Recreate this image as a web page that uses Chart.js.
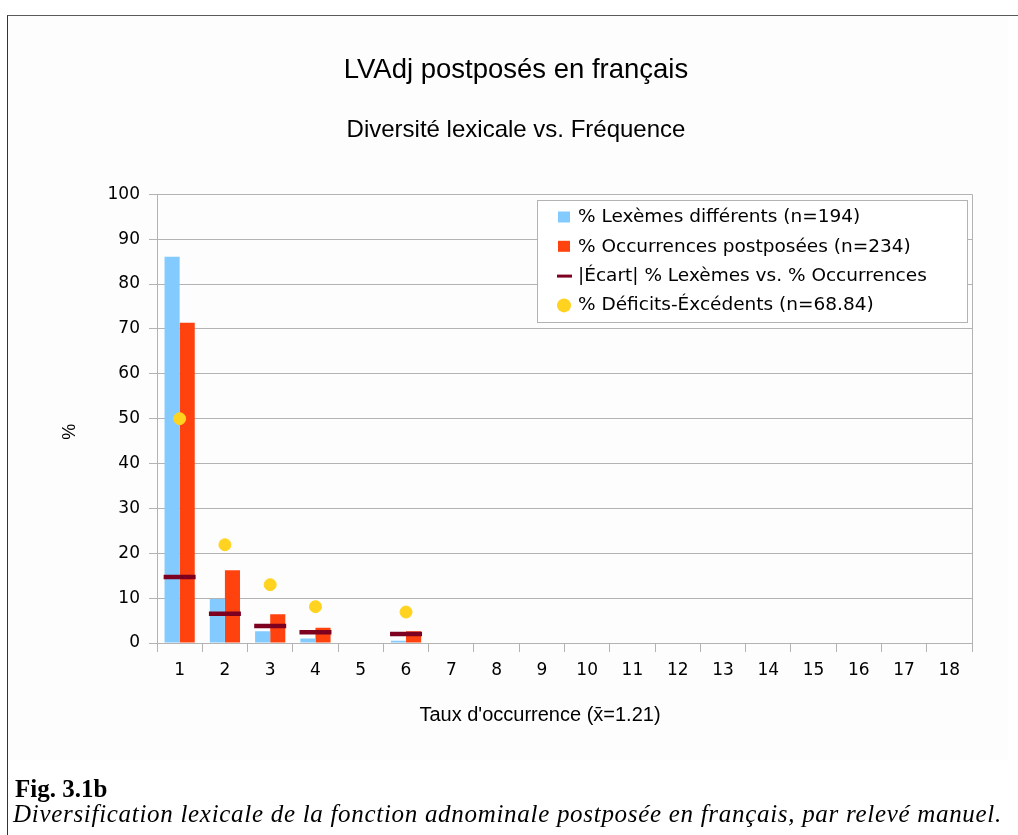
<!DOCTYPE html>
<html><head><meta charset="utf-8">
<script src="https://cdn.jsdelivr.net/npm/chart.js@4.4.1/dist/chart.umd.min.js"></script>
<style>
html,body{margin:0;padding:0;background:#fff;width:1018px;height:835px;overflow:hidden;}
#bg{position:absolute;left:8px;top:16px;width:1000px;height:744px;background:#fdfdfd;}
#wrap{position:absolute;left:0;top:0;width:1018px;height:760px;}
#frame{position:absolute;left:7px;top:15px;width:1011px;height:820px;border-top:1px solid #5a5a5a;border-left:1px solid #333;box-sizing:border-box;pointer-events:none;}
.cap{position:absolute;white-space:nowrap;color:#000;font-family:"Liberation Serif","Times New Roman",serif;}
#fig{left:15px;top:776px;font-size:25px;line-height:25px;font-weight:bold;}
#desc{left:13px;top:801px;font-size:25px;line-height:25px;font-style:italic;letter-spacing:0.7px;}
</style></head><body>
<div id="bg"></div>
<div id="wrap"><canvas id="c" width="1018" height="760" style="width:1018px;height:760px"></canvas></div>
<div id="frame"></div>
<div class="cap" id="fig">Fig. 3.1b</div>
<div class="cap" id="desc">Diversification lexicale de la fonction adnominale postposée en français, par relevé manuel.</div>
<script>
// ---- data ----
const categories = ['1','2','3','4','5','6','7','8','9','10','11','12','13','14','15','16','17','18'];
const lexemesPct     = [86.1, 9.8, 2.6, 1.0, null, 0.5, null, null, null, null, null, null, null, null, null, null, null, null];
const occurrencesPct = [71.4, 16.2, 6.4, 3.4, null, 2.6, null, null, null, null, null, null, null, null, null, null, null, null];
const ecartPct       = [14.7, 6.5, 3.8, 2.4, null, 2.0, null, null, null, null, null, null, null, null, null, null, null, null];
const deficitsPct    = [50.0, 21.9, 13.0, 8.1, null, 6.9, null, null, null, null, null, null, null, null, null, null, null, null];
const seriesLabels = [
  '% Lexèmes différents (n=194)',
  '% Occurrences postposées (n=234)',
  '|Écart| % Lexèmes vs. % Occurrences',
  '% Déficits-Éxcédents (n=68.84)'
];
const chartTitle = 'LVAdj postposés en français';
const chartSubtitle = 'Diversité lexicale vs. Fréquence';
const xTitle = "Taux d'occurrence (x\u0304=1.21)";
const yTitle = '%';

const COLORS = { lex:'#83caff', occ:'#ff420e', ecart:'#7e0021', def:'#ffd320', grid:'#b3b3b3' };
const SANS = '"Liberation Sans", Arial, sans-serif';

Chart.defaults.font.family = '"DejaVu Sans", sans-serif';
Chart.defaults.color = '#000';

function alignPx(p){ return Math.round(p - 0.5) + 0.5; }

const plotFrame = {
  id: 'plotFrame',
  beforeDatasetsDraw(chart){
    const {ctx, chartArea:a} = chart;
    ctx.save();
    ctx.strokeStyle = COLORS.grid; ctx.lineWidth = 1;
    const x = alignPx(a.right);
    ctx.beginPath(); ctx.moveTo(x, a.top); ctx.lineTo(x, a.bottom); ctx.stroke();
    ctx.restore();
  }
};

// axis titles, centred the way the source program does (x title over labels + plot)
const axisTitles = {
  id: 'axisTitles',
  afterDraw(chart){
    const {ctx, chartArea:a} = chart;
    ctx.save();
    ctx.fillStyle = '#000';
    ctx.textAlign = 'center'; ctx.textBaseline = 'middle';
    ctx.font = '20px ' + SANS;
    ctx.fillText(xTitle, (a.left - 49 + a.right) / 2, a.bottom + 72);
    ctx.translate(a.left - 87, (a.top + a.bottom) / 2 + 13);
    ctx.rotate(-Math.PI / 2);
    ctx.font = '18px ' + SANS;
    ctx.fillText(yTitle, 0, 0);
    ctx.restore();
  }
};

const boxLegend = {
  id: 'boxLegend',
  afterDraw(chart){
    const {ctx, chartArea:a} = chart;
    const ds = chart.data.datasets;
    ctx.save();
    ctx.font = '18.5px "DejaVu Sans"';
    const boxW = 430, boxH = 122;
    const x0 = Math.round(a.right - 5 - boxW);
    const y0 = Math.round(a.top + 6);
    ctx.fillStyle = '#ffffff';
    ctx.fillRect(x0, y0, boxW, boxH);
    ctx.strokeStyle = COLORS.grid; ctx.lineWidth = 1;
    ctx.strokeRect(x0 + 0.5, y0 + 0.5, boxW, boxH);
    ds.forEach((d, i) => {
      const cy = y0 + 17.5 + i * 29.3;
      const sx = x0 + 21;
      if (d.type === 'line' && d.pointStyle === 'line') {
        ctx.strokeStyle = d.borderColor; ctx.lineWidth = 3;
        ctx.beginPath(); ctx.moveTo(sx - 1, cy); ctx.lineTo(sx + 14, cy); ctx.stroke();
      } else if (d.type === 'line') {
        ctx.fillStyle = d.backgroundColor;
        ctx.beginPath(); ctx.arc(sx + 6, cy, 7, 0, Math.PI * 2); ctx.fill();
      } else {
        ctx.fillStyle = d.backgroundColor;
        ctx.fillRect(sx, cy - 6, 12, 11);
      }
      ctx.fillStyle = '#000';
      ctx.textBaseline = 'middle';
      ctx.textAlign = 'left';
      ctx.fillText(d.label, sx + 20, cy);
    });
    ctx.restore();
  }
};

new Chart(document.getElementById('c'), {
  type: 'bar',
  data: {
    labels: categories,
    datasets: [
      { type:'bar', label: seriesLabels[0], data: lexemesPct, backgroundColor: COLORS.lex, borderWidth:0,
        categoryPercentage: 0.667, barPercentage: 1.0, order: 2 },
      { type:'bar', label: seriesLabels[1], data: occurrencesPct, backgroundColor: COLORS.occ, borderWidth:0,
        categoryPercentage: 0.667, barPercentage: 1.0, order: 2 },
      { type:'line', label: seriesLabels[2], data: ecartPct, showLine:false, pointStyle:'line',
        pointRadius:16, pointHoverRadius:16, pointBorderWidth:4.5, borderColor: COLORS.ecart, backgroundColor: COLORS.ecart, order: 0 },
      { type:'line', label: seriesLabels[3], data: deficitsPct, showLine:false, pointStyle:'circle',
        pointRadius:6, pointHoverRadius:6, pointBorderWidth:1, borderColor: COLORS.def, backgroundColor: COLORS.def, order: 1 }
    ]
  },
  options: {
    responsive: false,
    animation: false,
    layout: { padding: { top:0, left:60, right:46, bottom:0 } },
    plugins: {
      legend: { display:false },
      tooltip: { enabled:false },
      title: { display:true, text: chartTitle, color:'#000',
        font:{ family: SANS, size:27.5, weight:'normal' },
        padding:{ top:54, bottom:29 } },
      subtitle: { display:true, text: chartSubtitle, color:'#000',
        font:{ family: SANS, size:24, weight:'normal' },
        padding:{ top:0, bottom:49.5 } }
    },
    scales: {
      x: {
        offset: true,
        grid: { display:true, offset:true, drawOnChartArea:false, drawTicks:true, tickLength:9, color: COLORS.grid },
        border: { display:true, color: COLORS.grid },
        ticks: { font:{ size:17 }, color:'#000', padding:8, maxRotation:0, autoSkip:false },
        title: { display:false, text: xTitle },
        afterFit(scale){ scale.height = 117; }
      },
      y: {
        min: 0, max: 100,
        grid: { color: COLORS.grid, tickLength:8, drawTicks:true },
        border: { display:true, color: COLORS.grid },
        ticks: { stepSize:10, font:{ size:17 }, color:'#000', padding:9 },
        title: { display:false, text: yTitle },
        afterFit(scale){ scale.width = 97; }
      }
    }
  },
  plugins: [plotFrame, axisTitles, boxLegend]
});
</script>
</body></html>
